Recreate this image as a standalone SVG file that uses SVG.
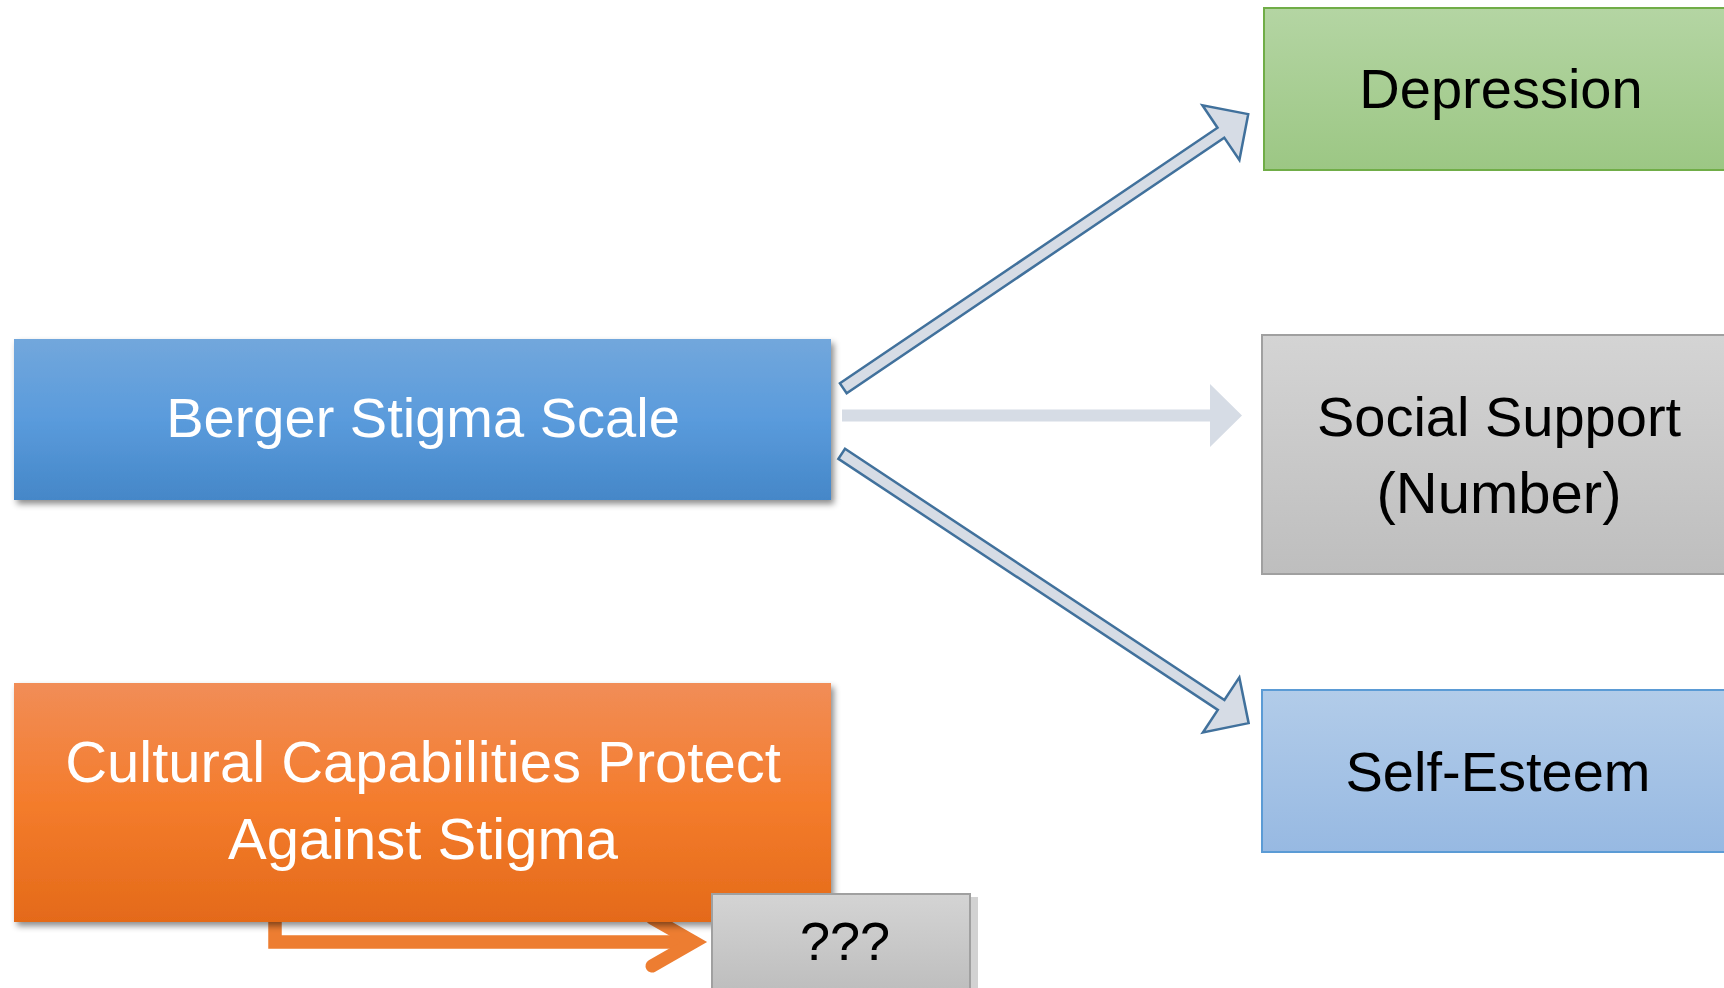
<svg xmlns="http://www.w3.org/2000/svg" width="1724" height="988" viewBox="0 0 1724 988">
<defs>
<linearGradient id="gBlue" x1="0" y1="0" x2="0" y2="1"><stop offset="0" stop-color="#72A7DC"/><stop offset="0.5" stop-color="#5A9BDC"/><stop offset="1" stop-color="#4587C8"/></linearGradient>
<linearGradient id="gOrange" x1="0" y1="0" x2="0" y2="1"><stop offset="0" stop-color="#F18D57"/><stop offset="0.5" stop-color="#F47C2C"/><stop offset="1" stop-color="#E46A19"/></linearGradient>
<linearGradient id="gGreen" x1="0" y1="0" x2="0" y2="1"><stop offset="0" stop-color="#B4D5A3"/><stop offset="1" stop-color="#9CC784"/></linearGradient>
<linearGradient id="gGray" x1="0" y1="0" x2="0" y2="1"><stop offset="0" stop-color="#D4D4D4"/><stop offset="1" stop-color="#BEBEBE"/></linearGradient>
<linearGradient id="gLBlue" x1="0" y1="0" x2="0" y2="1"><stop offset="0" stop-color="#B2CCE9"/><stop offset="1" stop-color="#97B9E2"/></linearGradient>
<filter id="shadow" x="-5%" y="-10%" width="115%" height="130%"><feDropShadow dx="3" dy="4" stdDeviation="3" flood-color="#000" flood-opacity="0.45"/></filter>
</defs>
<style>
text{font-family:"Liberation Sans",Arial,sans-serif;font-size:56px;text-anchor:middle}
.w{fill:#FFFFFF}
.k{fill:#000000}
.blk{fill:#D6DCE5;stroke:#41719C;stroke-width:2.5;stroke-linejoin:miter}
</style>
<rect width="1724" height="988" fill="#FFFFFF"/>
<g id="connectors">
<polygon class="blk" points="0,-6 456,-6 456,-33 489,0 456,33 456,6 0,6" transform="translate(843.3,388.3) rotate(-34.1)"/>
<polygon points="842,409.5 1210,409.5 1210,384 1242,415.5 1210,447 1210,421.5 842,421.5" fill="#D6DCE5"/>
<polygon class="blk" points="0,-6 455,-6 455,-33 488,0 455,33 455,6 0,6" transform="translate(841.7,453.8) rotate(33.5)"/>
<path d="M275,900 V942 H694" fill="none" stroke="#ED7D31" stroke-width="13.5"/>
<path d="M652,918 L694,942 L652,966" fill="none" stroke="#ED7D31" stroke-width="13" stroke-linecap="round" stroke-linejoin="miter" stroke-miterlimit="10"/>
</g>
<g id="node-berger">
<rect x="14" y="339" width="817" height="161" fill="url(#gBlue)" filter="url(#shadow)"/>
<text class="w" x="423" y="437">Berger Stigma Scale</text>
</g>
<g id="node-cultural">
<rect x="14" y="683" width="817" height="239" fill="url(#gOrange)" filter="url(#shadow)"/>
<text class="w" x="423" y="782" style="font-size:58px">Cultural Capabilities Protect</text>
<text class="w" x="423" y="859" style="font-size:58px">Against Stigma</text>
</g>
<g id="node-unknown">
<rect x="971" y="897" width="7" height="91" fill="#D2D2D2"/>
<rect x="712" y="894" width="258" height="96" fill="url(#gGray)" stroke="#A0A0A0" stroke-width="2"/>
<text class="k" x="845" y="960" style="font-size:54px">???</text>
</g>
<g id="node-depression">
<rect x="1264" y="8" width="462" height="162" fill="url(#gGreen)" stroke="#70AD47" stroke-width="2"/>
<text class="k" x="1501" y="108">Depression</text>
</g>
<g id="node-social">
<rect x="1262" y="335" width="464" height="239" fill="url(#gGray)" stroke="#A0A0A0" stroke-width="2"/>
<text class="k" x="1499" y="436">Social Support</text>
<text class="k" x="1499" y="513" style="font-size:58px">(Number)</text>
</g>
<g id="node-selfesteem">
<rect x="1262" y="690" width="464" height="162" fill="url(#gLBlue)" stroke="#5B9BD5" stroke-width="2"/>
<text class="k" x="1498" y="791">Self-Esteem</text>
</g>
</svg>
